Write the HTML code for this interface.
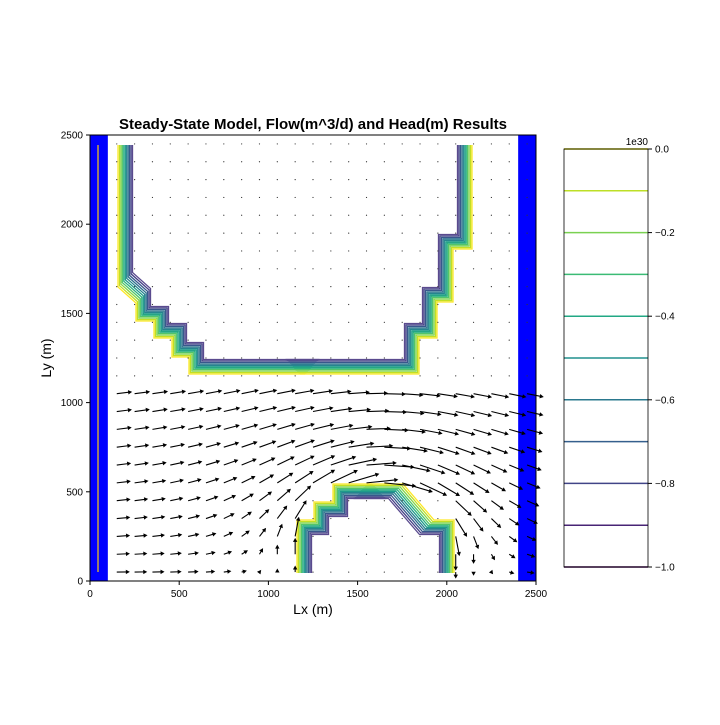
<!DOCTYPE html>
<html><head><meta charset="utf-8"><style>
body{margin:0;background:#fff;width:720px;height:720px;overflow:hidden}
svg text{font-family:"Liberation Sans",sans-serif}
</style></head><body>
<svg id="s" width="720" height="720" viewBox="0 0 720 720">
<text x="313" y="129" text-anchor="middle" font-size="15" font-weight="bold">Steady-State Model, Flow(m^3/d) and Head(m) Results</text>
<g id="plot"></g>
<rect x="90" y="135" width="446" height="446" fill="none" stroke="#000" stroke-width="1"/>
<g id="axes"></g>
<text x="313" y="614" text-anchor="middle" font-size="14">Lx (m)</text>
<text x="51" y="358" text-anchor="middle" font-size="14" transform="rotate(-90 51 358)">Ly (m)</text>
<g id="cbar"></g>
</svg>
<script>
const xTicks=[0,500,1000,1500,2000,2500];
const yTicks=[0,500,1000,1500,2000,2500];
const cbTicks=["0.0","−0.2","−0.4","−0.6","−0.8","−1.0"];
const cbLevels=[0,-0.1,-0.2,-0.3,-0.4,-0.5,-0.6,-0.7,-0.8,-0.9,-1.0];
const qx=[150,250,350,450,550,650,750,850,950,1050,1150,1250,1350,1450,1550,1650,1750,1850,1950,2050,2150,2250,2350,2450];
const qy=[2450,2350,2250,2150,2050,1950,1850,1750,1650,1550,1450,1350,1250,1150,1050,950,850,750,650,550,450,350,250,150,50];
const NS="http://www.w3.org/2000/svg";
const X=v=>90+v*446/2500, Y=v=>581-v*446/2500;
function mk(t,a,p){const e=document.createElementNS(NS,t);for(const k in a)e.setAttribute(k,a[k]);(p||document.getElementById('s')).appendChild(e);return e;}
const plot=document.getElementById('plot'),axes=document.getElementById('axes'),cb=document.getElementById('cbar');
let r=mk('rect',{x:X(0),y:135,width:X(100)-X(0),height:446,fill:'#0000ff'},plot);


r=mk('rect',{x:X(2400),y:135,width:X(2500)-X(2400),height:446,fill:'#0000ff'},plot);


r=mk('line',{x1:98,y1:145,x2:98,y2:572,stroke:'#c8a640','stroke-width':1.5},plot);


const cols=['#fde725','#c2df23','#86d549','#52c569','#2ab07f','#1e9b8a','#25858e','#2d708e','#38588c','#433e85','#5a4a8e'];
const parts=[
 [[[118,145],[118,287],[136,303],[136,321],[154,321],[154,338],[172,338],[172,357],[189,357],[189,374],[305,374]],1,-1,'upper-left'],
 [[[300,374],[419,374],[419,338],[437,338],[437,302],[453,302],[453,249],[472,249],[472,145]],-1,-1,'upper-right'],
 [[[297,573],[297,520],[314,520],[314,502],[333,502],[333,484],[372,484]],1,1,'lower-left'],
 [[[368,484],[403,484],[434,520],[454,520],[454,573]],-1,1,'lower-right']];
parts.forEach(([pts,sx,sy,nm])=>{
 for(let i=0;i<11;i++){const k=1.45*i;
  const p=pts.map((q,j)=>{let x=q[0]+sx*k,y=q[1]+sy*k;
   if(j==0&&(q[1]==145||q[1]==573))y=q[1];
   if(j==pts.length-1&&(q[1]==145||q[1]==573))y=q[1];
   return x.toFixed(1)+','+y.toFixed(1);}).join(' ');
  const l=mk('polyline',{points:p,fill:'none',stroke:cols[i],'stroke-width':1.3},plot);
  
  }
});
const U=16,R=620,cx=1600;
qy.forEach(yv=>qx.forEach(xv=>{
 let u=0,v=0;const dx=xv-cx,dy=yv,r2=dx*dx+dy*dy;
 const inObs=(xv>1150&&xv<2050&&yv<520)||(yv>1100);
 if(!inObs){const k=R*R/(r2*r2);u=U*(1-k*(dx*dx-dy*dy));v=-U*(2*k*dx*dy);
  if(u<0)u=0;
  const m=Math.hypot(u,v);if(m>32){u*=32/m;v*=32/m;}}
 const x0=X(xv),y0=Y(yv);
 if(Math.hypot(u,v)<2){const d=mk('circle',{cx:x0,cy:y0,r:0.6,fill:'#333'},plot);
  
  return;}
 const x1=x0+u,y1=y0-v,a=Math.atan2(-v,u);
 const g=mk('g',{},plot);
 
 
 mk('line',{x1:x0,y1:y0,x2:x1-2*Math.cos(a),y2:y1-2*Math.sin(a),stroke:'#000','stroke-width':1.1},g);
 const h=4,w=2.2;
 const p1=[x1-h*Math.cos(a)+w*Math.sin(a),y1-h*Math.sin(a)-w*Math.cos(a)],p2=[x1-h*Math.cos(a)-w*Math.sin(a),y1-h*Math.sin(a)+w*Math.cos(a)];
 mk('polygon',{points:`${x1},${y1} ${p1} ${p2}`,fill:'#000'},g);
}));
xTicks.forEach(t=>{mk('line',{x1:X(t),y1:581,x2:X(t),y2:585,stroke:'#000'},axes);
 const e=mk('text',{x:X(t),y:597,'text-anchor':'middle','font-size':10},axes);e.textContent=t;
 
 });
yTicks.forEach(t=>{mk('line',{x1:86,y1:Y(t),x2:90,y2:Y(t),stroke:'#000'},axes);
 const e=mk('text',{x:83,y:Y(t)+3.5,'text-anchor':'end','font-size':10},axes);e.textContent=t;
 
 });
const cbY=v=>149+(0-v)*(567-149);
const cbCol=['#c8c800','#bddf26','#7ad151','#3bbb75','#22a884','#21908d','#2a788e','#355f8d','#414487','#482475','#440154'];
cbLevels.forEach((lv,i)=>{
 const l=mk('line',{x1:564,y1:cbY(lv),x2:648,y2:cbY(lv),stroke:cbCol[i],'stroke-width':1.5},cb);
 
 });
mk('rect',{x:564,y:149,width:84,height:418,fill:'none',stroke:'#000','stroke-width':0.8},cb);
cbTicks.forEach((t,i)=>{const y=149+i*(418/5);mk('line',{x1:648,y1:y,x2:652,y2:y,stroke:'#000'},cb);
 const e=mk('text',{x:655,y:y+3.5,'font-size':10},cb);e.textContent=t;
 
 });
const ex=mk('text',{x:648,y:145,'text-anchor':'end','font-size':10},cb);ex.textContent='1e30';


</script>
</body></html>
